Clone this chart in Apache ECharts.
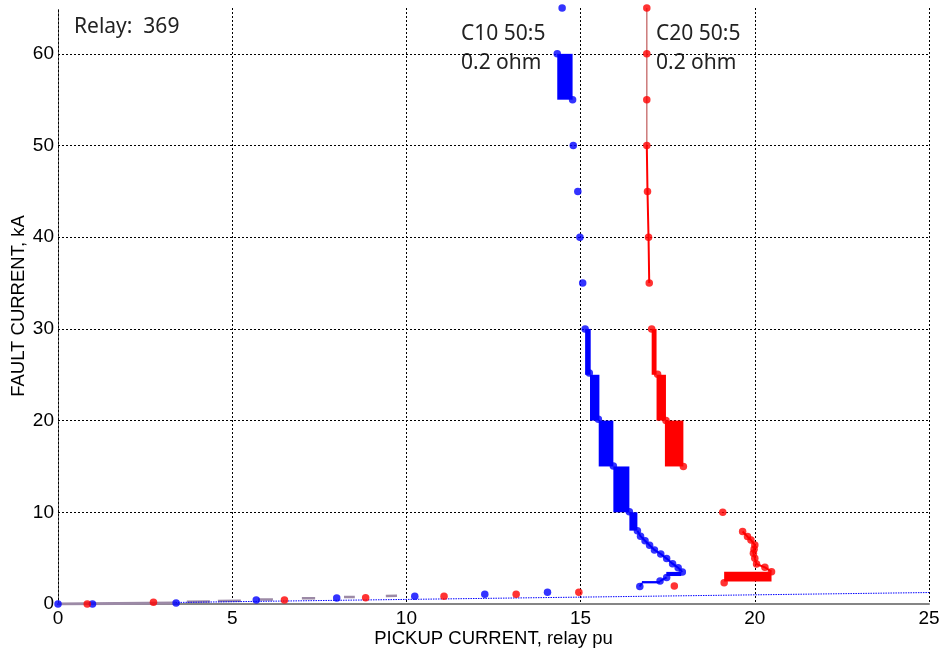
<!DOCTYPE html>
<html>
<head>
<meta charset="utf-8">
<title>Relay 369 pickup current</title>
<script src="https://cdn.jsdelivr.net/npm/echarts@6/dist/echarts.min.js"></script>
<style>
  html, body { margin: 0; padding: 0; background: #ffffff; }
  #chart { width: 943px; height: 656px; }
</style>
</head>
<body>
<div id="chart"></div>
<script>
// ---- Axis ticks ----
const xTicks = [0, 5, 10, 15, 20, 25];
const yTicks = [0, 10, 20, 30, 40, 50, 60];
const yMax = 65;

// ---- C10 50:5, 0.2 ohm (blue) ----
// [pickup pu, fault kA]
const c10Points = [
  [0, 0], [0.99, 0], [3.39, 0.1], [5.69, 0.44], [8.0, 0.65], [10.24, 0.85], [12.25, 1.07], [14.05, 1.29],
  [14.47, 65], [14.33, 60], [14.77, 55], [14.79, 50], [14.92, 45], [14.98, 40], [15.06, 35], [15.13, 30],
  [15.25, 25.2], [15.51, 20.15], [15.94, 15.05], [16.40, 10.07],
  [16.63, 8.0], [16.72, 7.4], [16.85, 6.9], [16.98, 6.4], [17.12, 5.9], [17.30, 5.45], [17.47, 4.95],
  [17.64, 4.4], [17.80, 3.95], [17.92, 3.5], [17.47, 2.9], [17.28, 2.5], [16.70, 1.9]
];
// saturated ranges: [pu min, pu max, kA min, kA max]
const c10Bands = [
  [14.33, 14.77, 55, 60],
  [15.13, 15.29, 25, 30],
  [15.27, 15.54, 20, 25],
  [15.52, 15.94, 15, 20],
  [15.94, 16.40, 10, 15],
  [16.40, 16.63, 8, 10],
  [17.46, 17.89, 3.05, 3.5],
  [16.76, 17.28, 2.25, 2.5]
];
const c10Trace = [
  [16.63, 8.0], [16.72, 7.4], [16.85, 6.9], [16.98, 6.4], [17.12, 5.9], [17.30, 5.45], [17.47, 4.95],
  [17.64, 4.4], [17.80, 3.95], [17.92, 3.5]
];
const c10Tail = [[17.47, 2.9], [17.28, 2.5]];
const c10Foot = [[16.70, 1.9], [16.76, 2.3]];

// ---- C20 50:5, 0.2 ohm (red) ----
const c20Points = [
  [0.84, 0], [2.74, 0.18], [6.5, 0.44], [8.83, 0.69], [11.08, 0.85], [13.15, 1.07], [14.95, 1.29],
  [16.9, 65], [16.9, 60], [16.9, 55], [16.9, 50], [16.92, 45], [16.95, 40], [16.97, 35],
  [17.04, 30], [17.21, 25.07], [17.45, 20], [17.95, 15], [17.69, 1.96],
  [19.08, 10], [19.65, 7.9], [19.79, 7.35], [19.89, 6.98], [20.0, 6.44], [19.98, 5.96], [19.96, 5.53],
  [20.0, 4.98], [20.05, 4.36], [20.29, 4.0], [20.48, 3.53], [19.12, 2.33]
];
const c20Bands = [
  [17.04, 17.18, 25, 30],
  [17.18, 17.45, 20, 25],
  [17.42, 17.95, 15, 20],
  [19.12, 20.48, 2.45, 3.53]
];
const c20Upper = [[16.9, 65], [16.9, 60], [16.9, 55], [16.9, 50]];
const c20Lower = [[16.9, 50], [16.92, 45], [16.95, 40], [16.97, 35]];
const c20Trace = [
  [19.65, 7.9], [19.79, 7.35], [19.89, 6.98], [20.0, 6.44], [19.98, 5.96], [19.96, 5.53],
  [20.0, 4.98], [20.05, 4.36], [20.29, 4.0], [20.48, 3.53]
];

// ---- Low-current traces ----
// [x1, y1, x2, y2]
const lowSegments = [
  [3.7, 0.25, 4.36, 0.28], [4.59, 0.33, 5.25, 0.35], [5.74, 0.48, 6.17, 0.5],
  [7.0, 0.62, 7.38, 0.64], [8.21, 0.76, 8.52, 0.77], [9.41, 0.88, 9.73, 0.9]
];
const lowBase = [[0, 0], [3.39, 0.1]];
const refLine = [[0, 0], [25, 1.25]];

const BLUE = '#0000ff';
const RED = '#ff0000';
const MAUVE = '#9c8aa6';

function bandSeries(data, color) {
  return {
    type: 'custom',
    data: data,
    silent: true,
    z: 3,
    renderItem: function (params, api) {
      const p1 = api.coord([api.value(0), api.value(3)]);
      const p2 = api.coord([api.value(1), api.value(2)]);
      return {
        type: 'rect',
        shape: { x: p1[0], y: p1[1], width: p2[0] - p1[0], height: p2[1] - p1[1] },
        style: { fill: color }
      };
    }
  };
}

function segmentSeries(data, color, width) {
  return {
    type: 'custom',
    data: data,
    silent: true,
    z: 2,
    renderItem: function (params, api) {
      const a = api.coord([api.value(0), api.value(1)]);
      const b = api.coord([api.value(2), api.value(3)]);
      return {
        type: 'line',
        shape: { x1: a[0], y1: a[1], x2: b[0], y2: b[1] },
        style: { stroke: color, lineWidth: width }
      };
    }
  };
}

function lineSeries(data, color, width, dashed) {
  return {
    type: 'line',
    data: data,
    showSymbol: false,
    silent: true,
    z: 2,
    lineStyle: { color: color, width: width, type: dashed ? [1.5, 1] : 'solid' }
  };
}

function pointSeries(data, color) {
  return {
    type: 'scatter',
    data: data,
    symbol: 'circle',
    symbolSize: 7.5,
    silent: true,
    z: 5,
    itemStyle: { color: color }
  };
}

const gridStyle = { show: true, lineStyle: { color: '#000000', type: [2, 2], width: 1 } };
const tickFont = { fontFamily: 'Liberation Sans', fontSize: 19, color: '#000000' };
const nameFont = { fontFamily: 'Liberation Sans', fontSize: 18.5, color: '#000000' };
const noteFont = { fontFamily: 'Noto Sans', fontSize: 21, fill: '#222222' };

const chart = echarts.init(document.getElementById('chart'), null, { renderer: 'canvas' });
chart.setOption({
  animation: false,
  backgroundColor: '#ffffff',
  grid: { left: 58, right: 14, top: 8, bottom: 52, containLabel: false, outerBoundsMode: 'none' },
  xAxis: [{
    type: 'value',
    min: xTicks[0],
    max: xTicks[xTicks.length - 1],
    interval: 5,
    name: 'PICKUP CURRENT, relay pu',
    nameLocation: 'middle',
    nameGap: 25,
    nameMoveOverlap: false,
    nameTextStyle: nameFont,
    axisLine: { show: true, lineStyle: { color: '#000000', type: [2, 2] } },
    axisTick: { show: false },
    axisLabel: Object.assign({ margin: 5 }, tickFont),
    splitLine: Object.assign({ showMinLine: false }, gridStyle)
  }, {
    type: 'value',
    position: 'top',
    min: xTicks[0],
    max: xTicks[xTicks.length - 1],
    axisLine: { show: true, lineStyle: { color: '#858585', width: 2 } },
    axisTick: { show: false },
    axisLabel: { show: false },
    splitLine: { show: false }
  }],
  yAxis: [{
    type: 'value',
    min: 0,
    max: yMax,
    interval: 10,
    name: 'FAULT CURRENT, kA',
    nameLocation: 'middle',
    nameGap: 30,
    nameMoveOverlap: false,
    nameTextStyle: nameFont,
    axisLine: { show: true, lineStyle: { color: '#000000', type: [2, 2] } },
    axisTick: { show: false },
    axisLabel: Object.assign({
      margin: 4,
      formatter: function (v) { return yTicks.indexOf(v) >= 0 ? String(v) : ''; }
    }, tickFont),
    splitLine: Object.assign({ showMinLine: false, showMaxLine: false }, gridStyle)
  }, {
    type: 'value',
    position: 'right',
    min: 0,
    max: yMax,
    axisLine: { show: true, lineStyle: { color: '#000000', type: [2, 2] } },
    axisTick: { show: false },
    axisLabel: { show: false },
    splitLine: { show: false }
  }],
  series: [
    lineSeries(refLine, BLUE, 1, true),
    lineSeries(lowBase, MAUVE, 3, false),
    segmentSeries(lowSegments, MAUVE, 2.5),
    lineSeries(c20Upper, '#cc7a7a', 1.5, false),
    lineSeries(c20Lower, RED, 2, false),
    lineSeries(c20Trace, RED, 2, false),
    lineSeries(c10Trace, BLUE, 2, false),
    lineSeries(c10Tail, BLUE, 2, false),
    lineSeries(c10Foot, BLUE, 2, false),
    bandSeries(c10Bands, BLUE),
    bandSeries(c20Bands, RED),
    pointSeries(c10Points, BLUE),
    pointSeries(c20Points, RED)
  ],
  graphic: [
    { type: 'text', left: 74, top: 17, style: Object.assign({ text: 'Relay:  369' }, noteFont) },
    { type: 'text', left: 461, top: 24, style: Object.assign({ text: 'C10 50:5' }, noteFont) },
    { type: 'text', left: 461, top: 53, style: Object.assign({ text: '0.2 ohm' }, noteFont) },
    { type: 'text', left: 656, top: 24, style: Object.assign({ text: 'C20 50:5' }, noteFont) },
    { type: 'text', left: 656, top: 53, style: Object.assign({ text: '0.2 ohm' }, noteFont) }
  ]
});
</script>
</body>
</html>
